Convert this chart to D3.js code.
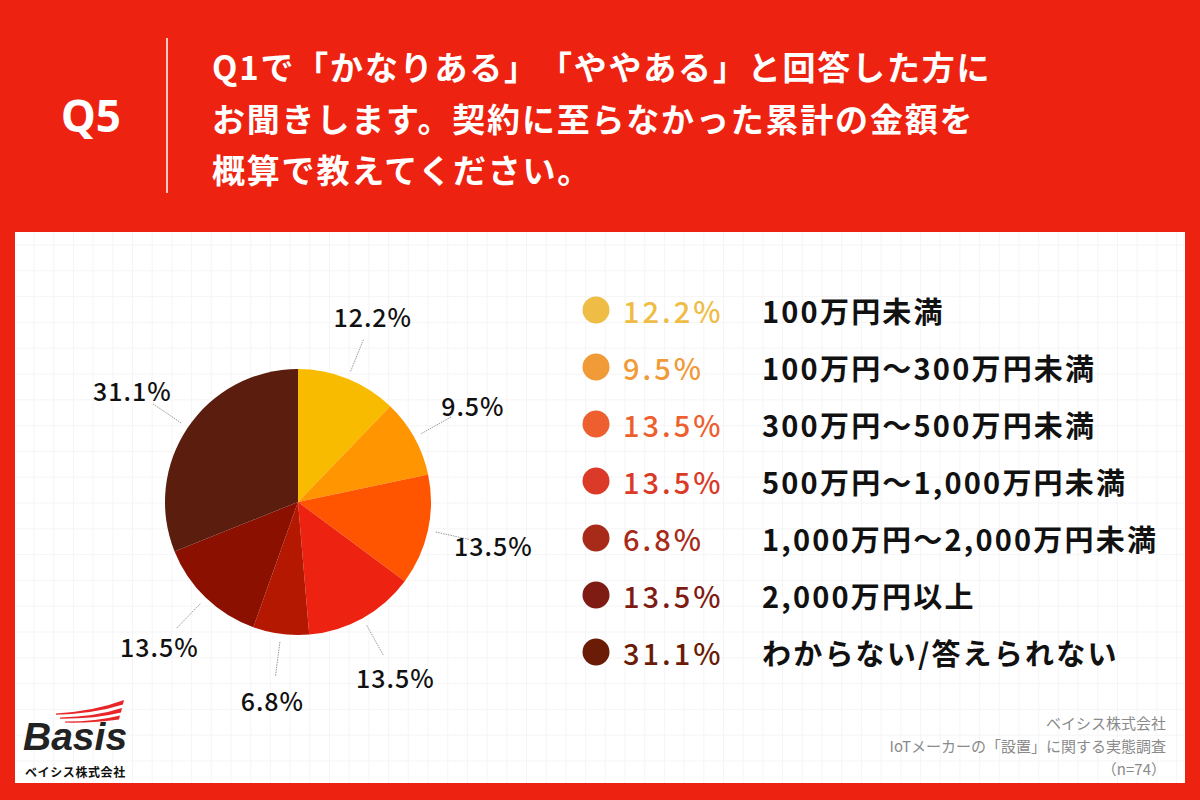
<!DOCTYPE html>
<html>
<head>
<meta charset="utf-8">
<script src="https://cdn.jsdelivr.net/npm/d3@7"></script>
<style>
  body { margin: 0; background: #ee2211; }
  svg { display: block; }
  text { font-family: "Noto Sans CJK JP", "Noto Sans", sans-serif; text-spacing-trim: space-all; }
</style>
</head>
<body>
<svg id="chart"></svg>
<script>
// data
const categories = ["100万円未満", "100万円〜300万円未満", "300万円〜500万円未満",
  "500万円〜1,000万円未満", "1,000万円〜2,000万円未満", "2,000万円以上", "わからない/答えられない"];
const values = [12.2, 9.5, 13.5, 13.5, 6.8, 13.5, 31.1];
const sliceColors = ["#f8bb00", "#ff9500", "#ff5500", "#ee2211", "#b51800", "#8c1000", "#5a1d0e"];
const legendColors = ["#efbc45", "#f09b38", "#ee5f30", "#db3a28", "#a82b1a", "#7e1c14", "#6a1c06"];
const titleLines = ["Q1で「かなりある」「ややある」と回答した方に",
  "お聞きします。契約に至らなかった累計の金額を",
  "概算で教えてください。"];
const sourceLines = ["ベイシス株式会社", "IoTメーカーの「設置」に関する実態調査", "（n=74）"];

const data = categories.map((c, i) => ({ cat: c, value: values[i], i: i }));

const W = 1200, H = 800;
const svg = d3.select("#chart").attr("width", W).attr("height", H);

// red frame + white card
svg.append("rect").attr("width", W).attr("height", H).attr("fill", "#ee2211");
svg.append("rect").attr("x", 15).attr("y", 232).attr("width", 1170).attr("height", 551).attr("fill", "#fff");

// faint grid on the card
const grid = svg.append("g").attr("stroke", "#f5f5f5").attr("stroke-width", 1);
d3.range(34, 1185, 19.7).forEach(x => {
  grid.append("line").attr("x1", x).attr("x2", x).attr("y1", 232).attr("y2", 783);
});
d3.range(245, 783, 25.8).forEach(y => {
  grid.append("line").attr("x1", 15).attr("x2", 1185).attr("y1", y).attr("y2", y);
});

// header
svg.append("text")
  .attr("x", 91).attr("y", 115)
  .attr("text-anchor", "middle").attr("dominant-baseline", "central")
  .attr("fill", "#fff").attr("font-size", 44).attr("font-weight", 700)
  .style("font-family", "'Noto Sans', sans-serif")
  .text("Q5");

svg.append("line")
  .attr("x1", 167).attr("x2", 167).attr("y1", 38).attr("y2", 193)
  .attr("stroke", "#fff").attr("stroke-width", 1.5);

svg.append("g").selectAll("text")
  .data(titleLines)
  .enter().append("text")
  .attr("x", 212)
  .attr("y", (d, i) => 66 + i * 51.5)
  .attr("dominant-baseline", "central")
  .attr("fill", "#fff").attr("font-size", 33).attr("font-weight", 700)
  .attr("letter-spacing", 1.8)
  .text(d => d);

// pie
const cx = 298, cy = 502, radius = 133;
const pie = d3.pie().value(d => d.value).sort(null);
const arcs = pie(data);
const arc = d3.arc().innerRadius(0).outerRadius(radius);
const labelArc = d3.arc().innerRadius(200).outerRadius(200);
const lineIn = d3.arc().innerRadius(141).outerRadius(141);
const lineOut = d3.arc().innerRadius(176).outerRadius(176);

const g = svg.append("g").attr("transform", `translate(${cx},${cy})`);

g.selectAll(".slice")
  .data(arcs)
  .enter().append("path")
  .attr("class", "slice")
  .attr("d", arc)
  .attr("fill", d => sliceColors[d.data.i]);

g.selectAll(".leader")
  .data(arcs)
  .enter().append("line")
  .attr("class", "leader")
  .attr("x1", d => lineIn.centroid(d)[0])
  .attr("y1", d => lineIn.centroid(d)[1])
  .attr("x2", d => lineOut.centroid(d)[0])
  .attr("y2", d => lineOut.centroid(d)[1])
  .attr("stroke", "#999").attr("stroke-width", 1)
  .attr("stroke-dasharray", "1.5,1");

g.selectAll(".plabel")
  .data(arcs)
  .enter().append("text")
  .attr("class", "plabel")
  .attr("x", d => labelArc.centroid(d)[0])
  .attr("y", d => labelArc.centroid(d)[1])
  .attr("text-anchor", "middle").attr("dominant-baseline", "central")
  .attr("fill", "#111").attr("font-size", 25).attr("font-weight", 500)
  .attr("letter-spacing", 1)
  .text(d => d.data.value.toFixed(1) + "%");

// legend
const rowY = d3.scalePoint().domain(categories).range([310, 652]);
const legend = svg.append("g");
const rows = legend.selectAll(".row")
  .data(data)
  .enter().append("g")
  .attr("class", "row")
  .attr("transform", d => `translate(0,${rowY(d.cat)})`);

rows.append("circle")
  .attr("cx", 596).attr("r", 13.5)
  .attr("fill", d => legendColors[d.i]);

rows.append("text")
  .attr("x", 623)
  .attr("dominant-baseline", "central")
  .attr("fill", d => legendColors[d.i])
  .attr("font-size", 29).attr("font-weight", 500)
  .attr("letter-spacing", 3)
  .text(d => d.value.toFixed(1) + "%");

rows.append("text")
  .attr("x", 762)
  .attr("dominant-baseline", "central")
  .attr("fill", "#111")
  .attr("font-size", 29).attr("font-weight", 700)
  .attr("letter-spacing", 2.2)
  .text(d => d.cat);

// source note
svg.append("g").selectAll("text")
  .data(sourceLines)
  .enter().append("text")
  .attr("x", 1166)
  .attr("y", (d, i) => 722 + i * 23)
  .attr("text-anchor", "end").attr("dominant-baseline", "central")
  .attr("fill", "#8a8a8a").attr("font-size", 15)
  .text(d => d);

// logo
const logo = svg.append("g");
logo.append("path").attr("fill", "#e8262a")
  .attr("d", "M56,713.5 Q95,711 124,700 L123,704.5 Q95,713.5 56,714.8 Z");
logo.append("path").attr("fill", "#e8262a")
  .attr("d", "M60,717.5 Q96,716.5 122,708 L121,712.5 Q96,718.8 60,718.7 Z");
logo.append("path").attr("fill", "#e8262a")
  .attr("d", "M65,721.5 Q97,721.5 120,715.5 L119,719.5 Q97,723 65,722.6 Z");
logo.append("text")
  .attr("x", 23).attr("y", 750)
  .attr("fill", "#222").attr("font-size", 39).attr("font-weight", 700)
  .attr("font-style", "italic")
  .style("font-family", "'Liberation Sans', Arial, sans-serif")
  .text("Basis");
logo.append("text")
  .attr("x", 25).attr("y", 771)
  .attr("dominant-baseline", "central")
  .attr("fill", "#111").attr("font-size", 12).attr("font-weight", 700)
  .attr("letter-spacing", 0.6)
  .text("ベイシス株式会社");
</script>
</body>
</html>
